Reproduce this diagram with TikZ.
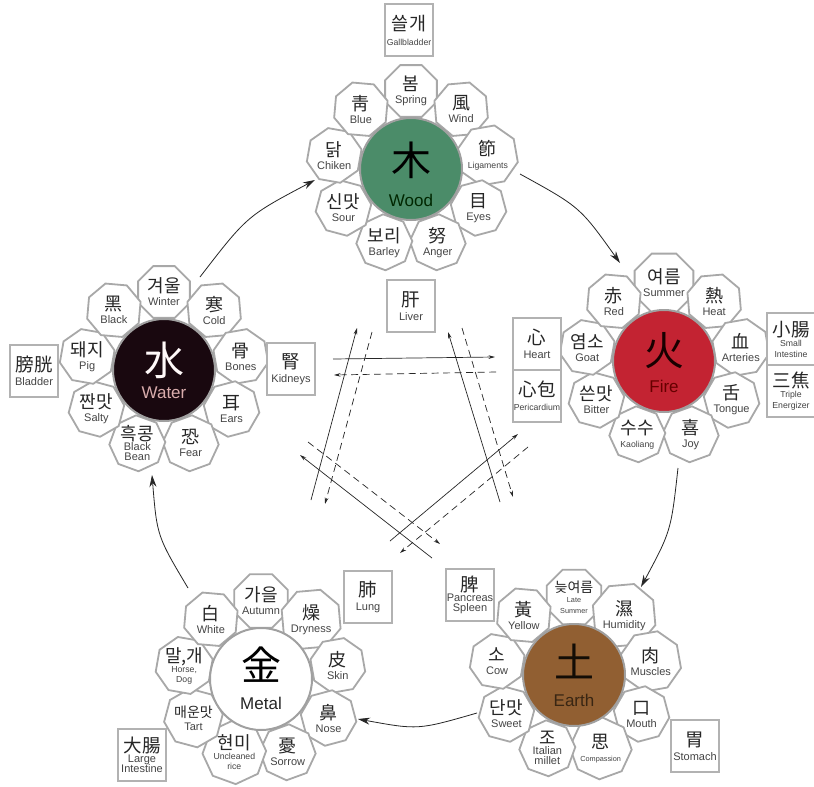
\documentclass[tikz,border=0pt]{standalone}
\usepackage{fontspec}
\setmainfont{Liberation Sans}
\newfontfamily\kr{Noto Sans CJK KR}
\usetikzlibrary{shapes.geometric,arrows.meta,calc}
\definecolor{petalgray}{HTML}{A8A8A8}
\definecolor{boxgray}{HTML}{B2B2B2}
\definecolor{ringgray}{HTML}{A0A0A0}
\definecolor{woodfill}{HTML}{4B8C69}
\definecolor{firefill}{HTML}{C32332}
\definecolor{earthfill}{HTML}{915F32}
\definecolor{waterfill}{HTML}{19080F}
\definecolor{inkdark}{HTML}{262626}
\definecolor{inkgray}{HTML}{444444}
\newcommand\KorBig[1]{{\kr\color{inkdark}\fontsize{18}{18}\selectfont #1}}
\newcommand\KorSm[1]{{\kr\color{inkdark}\fontsize{14}{15}\selectfont #1}}
\newcommand\KorBox[1]{{\kr\color{inkdark}\fontsize{18.5}{19}\selectfont #1}}
\newcommand\EnN[1]{{\color{inkgray}\fontsize{11}{11.5}\selectfont #1}}
\newcommand\EnS[1]{{\color{inkgray}\fontsize{8.7}{9.2}\selectfont #1}}
\newcommand\EnT[1]{{\color{inkgray}\fontsize{7.3}{8}\selectfont #1}}
\newcommand\petal[4]{\node[petalbox,shape border rotate=#3] (#1) at ($(#2)+({-1*(#3)}:78)$) {#4};}
\tikzset{
  petalbox/.style={regular polygon, regular polygon sides=8, minimum size=56, draw=petalgray, line width=1.8, fill=white, inner sep=0, align=center},
  elem/.style={circle, minimum size=102, draw=ringgray, line width=2, inner sep=0},
  organ/.style={rectangle, minimum width=48, minimum height=52, draw=boxgray, line width=2.8, fill=white, inner sep=0, align=center},
  cycle/.style={draw=inkdark, line width=0.8, -{Stealth[length=12pt,width=7pt]}},
  ctrl/.style={draw=inkdark, line width=0.7, -{Stealth[length=6.5pt,width=3.6pt]}},
  ctrldash/.style={ctrl, dash pattern=on 7pt off 4.5pt},
}
\begin{document}
\begin{tikzpicture}[x=1pt,y=-1pt]
\useasboundingbox (0,0) rectangle (814,787);
\fill[white] (0,0) rectangle (814,787);
\clip (0,0) rectangle (814,787);

% centres
\coordinate (woodc) at (411,169);
\coordinate (firec) at (664,361);
\coordinate (earthc) at (574,675);
\coordinate (metalc) at (261,679);
\coordinate (waterc) at (164,370);

% ---- inner control lines
\coordinate (h1a) at (333,359); \coordinate (h1b) at (495,357);
\coordinate (h2a) at (496,372); \coordinate (h2b) at (334,375);
\coordinate (l1a) at (311,500); \coordinate (l1b) at (357,328);
\coordinate (l2a) at (372,332); \coordinate (l2b) at (325,504);
\coordinate (r1a) at (500,502); \coordinate (r1b) at (448,332);
\coordinate (r2a) at (462,328); \coordinate (r2b) at (513,497);
\coordinate (a1a) at (432,558); \coordinate (a1b) at (300,455);
\coordinate (a2a) at (308,442); \coordinate (a2b) at (440,544);
\coordinate (b1a) at (390,541); \coordinate (b1b) at (518,434);
\coordinate (b2a) at (528,447); \coordinate (b2b) at (400,553);
\draw[ctrl] (h1a) -- (h1b);
\draw[ctrldash] (h2a) -- (h2b);
\draw[ctrl] (l1a) -- (l1b);
\draw[ctrldash] (l2a) -- (l2b);
\draw[ctrl] (r1a) -- (r1b);
\draw[ctrldash] (r2a) -- (r2b);
\draw[ctrl] (a1a) -- (a1b);
\draw[ctrldash] (a2a) -- (a2b);
\draw[ctrl] (b1a) -- (b1b);
\draw[ctrldash] (b2a) -- (b2b);

% ---- generating cycle
\coordinate (c1a) at (200,277); \coordinate (c1c) at (247,216); \coordinate (c1b) at (315,180);
\coordinate (c2a) at (520,174); \coordinate (c2c) at (580,207); \coordinate (c2b) at (620,263);
\coordinate (c3a) at (678,468); \coordinate (c3c) at (671,531); \coordinate (c3b) at (641,587);
\coordinate (c4a) at (477,713); \coordinate (c4c) at (418,730); \coordinate (c4b) at (358,719);
\coordinate (c5a) at (188,588); \coordinate (c5c) at (157,536); \coordinate (c5b) at (152,475);
\draw[cycle] (c1a) .. controls (c1c) .. (c1b);
\draw[cycle] (c2a) .. controls (c2c) .. (c2b);
\draw[cycle] (c3a) .. controls (c3c) .. (c3b);
\draw[cycle] (c4a) .. controls (c4c) .. (c4b);
\draw[cycle] (c5a) .. controls (c5c) .. (c5b);

% ---- Wood
\petal{w1}{woodc}{90}{\KorBig{봄}\\[1pt]\EnN{Spring}}
\petal{w2}{woodc}{50}{\KorBig{風}\\[1pt]\EnN{Wind}}
\petal{w3}{woodc}{10}{\KorBig{節}\\[1pt]\EnS{Ligaments}}
\petal{w4}{woodc}{-30}{\KorBig{目}\\[1pt]\EnN{Eyes}}
\petal{w5}{woodc}{-70}{\KorBig{努}\\[1pt]\EnN{Anger}}
\petal{w6}{woodc}{-110}{\KorBig{보리}\\[1pt]\EnN{Barley}}
\petal{w7}{woodc}{-150}{\KorBig{신맛}\\[1pt]\EnN{Sour}}
\petal{w8}{woodc}{170}{\KorBig{닭}\\[1pt]\EnN{Chiken}}
\petal{w9}{woodc}{130}{\KorBig{靑}\\[1pt]\EnN{Blue}}
\node[elem, fill=woodfill] (wood) at (woodc) {};
\node[text=black] (woodk) at ($(woodc)+(0,-9)$) {\kr\fontsize{40}{40}\selectfont 木};
\node[text=black!85!green] (woode) at ($(woodc)+(0,31)$) {\fontsize{17}{17}\selectfont Wood};

% ---- Fire
\petal{f1}{firec}{90}{\KorBig{여름}\\[1pt]\EnN{Summer}}
\petal{f2}{firec}{50}{\KorBig{熱}\\[1pt]\EnN{Heat}}
\petal{f3}{firec}{10}{\KorBig{血}\\[1pt]\EnN{Arteries}}
\petal{f4}{firec}{-30}{\KorBig{舌}\\[1pt]\EnN{Tongue}}
\petal{f5}{firec}{-70}{\KorBig{喜}\\[1pt]\EnN{Joy}}
\petal{f6}{firec}{-110}{\KorBig{수수}\\[1pt]\EnS{Kaoliang}}
\petal{f7}{firec}{-150}{\KorBig{쓴맛}\\[1pt]\EnN{Bitter}}
\petal{f8}{firec}{170}{\KorBig{염소}\\[1pt]\EnN{Goat}}
\petal{f9}{firec}{130}{\KorBig{赤}\\[1pt]\EnN{Red}}
\node[elem, fill=firefill] (fire) at (firec) {};
\node[text=black!90!red] (firek) at ($(firec)+(0,-10)$) {\kr\fontsize{40}{40}\selectfont 火};
\node[text=black!60!red] (firee) at ($(firec)+(0,25)$) {\fontsize{17}{17}\selectfont Fire};

% ---- Earth
\petal{e1}{earthc}{90}{\KorSm{늦여름}\\[-2pt]\EnT{Late}\\[-1pt]\EnT{Summer}}
\petal{e2}{earthc}{50}{\KorBig{濕}\\[1pt]\EnN{Humidity}}
\petal{e3}{earthc}{10}{\KorBig{肉}\\[1pt]\EnN{Muscles}}
\petal{e4}{earthc}{-30}{\KorBig{口}\\[1pt]\EnN{Mouth}}
\petal{e5}{earthc}{-70}{\KorBig{思}\\[1pt]\EnT{Compassion}}
\petal{e6}{earthc}{-110}{\KorBig{조}\\[-2pt]\EnN{Italian}\\[-2pt]\EnN{millet}}
\petal{e7}{earthc}{-150}{\KorBig{단맛}\\[1pt]\EnN{Sweet}}
\petal{e8}{earthc}{170}{\KorBig{소}\\[1pt]\EnN{Cow}}
\petal{e9}{earthc}{130}{\KorBig{黃}\\[1pt]\EnN{Yellow}}
\node[elem, fill=earthfill] (earth) at (earthc) {};
\node[text=black!90!brown] (earthk) at ($(earthc)+(0,-14)$) {\kr\fontsize{40}{40}\selectfont 土};
\node[text=black!70!brown] (earthe) at ($(earthc)+(0,25)$) {\fontsize{17}{17}\selectfont Earth};

% ---- Metal
\petal{m1}{metalc}{90}{\KorBig{가을}\\[1pt]\EnN{Autumn}}
\petal{m2}{metalc}{50}{\KorBig{燥}\\[1pt]\EnN{Dryness}}
\petal{m3}{metalc}{10}{\KorBig{皮}\\[1pt]\EnN{Skin}}
\petal{m4}{metalc}{-30}{\KorBig{鼻}\\[1pt]\EnN{Nose}}
\petal{m5}{metalc}{-70}{\KorBig{憂}\\[1pt]\EnN{Sorrow}}
\petal{m6}{metalc}{-110}{\KorBig{현미}\\[-2pt]\EnS{Uncleaned}\\[-2pt]\EnS{rice}}
\petal{m7}{metalc}{-150}{\KorSm{매운맛}\\[1pt]\EnN{Tart}}
\petal{m8}{metalc}{170}{\KorBig{말,개}\\[-2pt]\EnS{Horse,}\\[-2pt]\EnS{Dog}}
\petal{m9}{metalc}{130}{\KorBig{白}\\[1pt]\EnN{White}}
\node[elem, fill=white] (metal) at (metalc) {};
\node[text=black] (metalk) at ($(metalc)+(0,-14)$) {\kr\fontsize{40}{40}\selectfont 金};
\node[text=inkdark] (metale) at ($(metalc)+(0,24)$) {\fontsize{17}{17}\selectfont Metal};

% ---- Water
\petal{a1}{waterc}{90}{\KorBig{겨울}\\[1pt]\EnN{Winter}}
\petal{a2}{waterc}{50}{\KorBig{寒}\\[1pt]\EnN{Cold}}
\petal{a3}{waterc}{10}{\KorBig{骨}\\[1pt]\EnN{Bones}}
\petal{a4}{waterc}{-30}{\KorBig{耳}\\[1pt]\EnN{Ears}}
\petal{a5}{waterc}{-70}{\KorBig{恐}\\[1pt]\EnN{Fear}}
\petal{a6}{waterc}{-110}{\KorBig{흑콩}\\[-2pt]\EnN{Black}\\[-2pt]\EnN{Bean}}
\petal{a7}{waterc}{-150}{\KorBig{짠맛}\\[1pt]\EnN{Salty}}
\petal{a8}{waterc}{170}{\KorBig{돼지}\\[1pt]\EnN{Pig}}
\petal{a9}{waterc}{130}{\KorBig{黑}\\[1pt]\EnN{Black}}
\node[elem, fill=waterfill] (water) at (waterc) {};
\node[text=white!90!pink] (waterk) at ($(waterc)+(0,-10)$) {\kr\fontsize{40}{40}\selectfont 水};
\node[text=pink!70!gray] (watere) at ($(waterc)+(0,23)$) {\fontsize{17}{17}\selectfont Water};

% ---- organ boxes
\node[organ] (gall) at (409,30) {\KorBox{쓸개}\\[3pt]\EnS{Gallbladder}};
\node[organ] (liver) at (411,306) {\KorBox{肝}\\[2pt]\EnN{Liver}};
\node[organ] (kidney) at (291,369) {\KorBox{腎}\\[2pt]\EnN{Kidneys}};
\node[organ] (bladder) at (34,371) {\KorBox{膀胱}\\[2pt]\EnN{Bladder}};
\node[organ] (heart) at (537,344) {\KorBox{心}\\[2pt]\EnN{Heart}};
\node[organ] (peri) at (537,396) {\KorBox{心包}\\[2pt]\EnS{Pericardium}};
\node[organ] (smallint) at (791,339) {\KorBox{小腸}\\[-2pt]\EnS{Small}\\[-1pt]\EnS{Intestine}};
\node[organ] (triple) at (791,391) {\KorBox{三焦}\\[-2pt]\EnS{Triple}\\[-1pt]\EnS{Energizer}};
\node[organ] (lung) at (368,597) {\KorBox{肺}\\[2pt]\EnN{Lung}};
\node[organ] (largeint) at (142,755) {\KorBox{大腸}\\[-2pt]\EnN{Large}\\[-2pt]\EnN{Intestine}};
\node[organ] (spleen) at (470,595) {\KorBox{脾}\\[-2pt]\EnN{Pancreas}\\[-2pt]\EnN{Spleen}};
\node[organ] (stomach) at (695,746) {\KorBox{胃}\\[2pt]\EnN{Stomach}};
\end{tikzpicture}
\end{document}
